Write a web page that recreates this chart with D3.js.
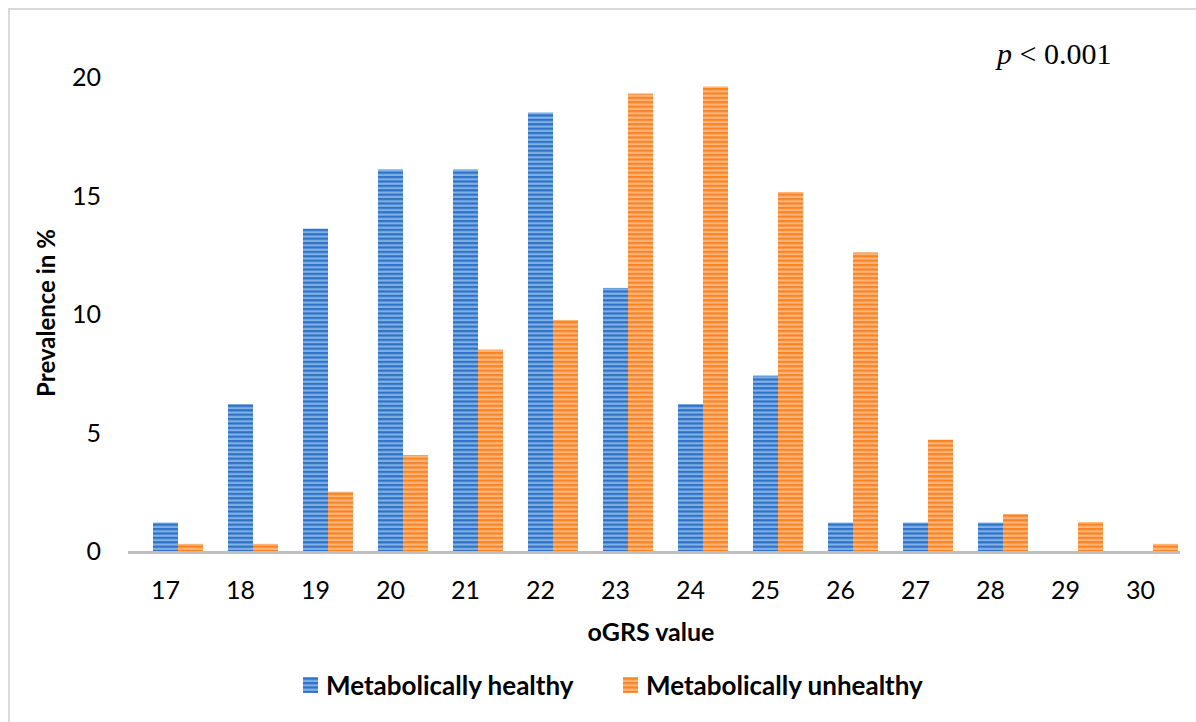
<!DOCTYPE html>
<html><head><meta charset="utf-8">
<script src="https://cdn.jsdelivr.net/npm/d3@7"></script>
<style>html,body{margin:0;padding:0;background:#fff;}svg{display:block;}</style>
</head><body>
<svg id="chart" width="1196" height="722"></svg>
<script>
const categories = ["17","18","19","20","21","22","23","24","25","26","27","28","29","30"];
const healthy   = [1.2, 6.2, 13.6, 16.1, 16.1, 18.5, 11.1, 6.2, 7.4, 1.2, 1.2, 1.2, 0, 0];
const unhealthy = [0.3, 0.3, 2.5, 4.05, 8.5, 9.75, 19.3, 19.6, 15.15, 12.6, 4.7, 1.56, 1.22, 0.3];
const yTicks = [0, 5, 10, 15, 20];
const seriesNames = ["Metabolically healthy", "Metabolically unhealthy"];

const svg = d3.select("#chart");
const font = "Lato, 'Open Sans', sans-serif";

// patterns
const defs = svg.append("defs");
function stripe(id, dark, light) {
  const p = defs.append("pattern").attr("id", id).attr("patternUnits", "userSpaceOnUse")
    .attr("width", 8).attr("height", 4.4);
  p.append("rect").attr("width", 8).attr("height", 4.4).attr("fill", light);
  p.append("rect").attr("width", 8).attr("height", 2.2).attr("fill", dark);
}
stripe("pBlue", "#2f72c4", "#7fb0e6");
stripe("pOrange", "#f98424", "#fcb57c");
const fills = ["url(#pBlue)", "url(#pOrange)"];

// frame
svg.append("path").attr("d", "M9,722 V9 H1196").attr("fill", "none")
  .attr("stroke", "#d9d9d9").attr("stroke-width", 2);

const x = d3.scaleBand().domain(categories).range([128, 1178]).padding(0);
const y = d3.scaleLinear().domain([0, 20]).range([551, 77]);

// y tick labels
svg.append("g").selectAll("text").data(yTicks).join("text")
  .attr("x", 101).attr("y", d => y(d)).attr("dy", "0.36em")
  .attr("text-anchor", "end").attr("font-family", font).attr("font-size", 25)
  .attr("fill", "#000").text(d => d);

// bars
const bw = x.bandwidth() / 3;
const series = [healthy, unhealthy];
series.forEach((vals, si) => {
  svg.append("g").selectAll("rect").data(vals).join("rect")
    .attr("x", (d, i) => x(categories[i]) + bw * (1 + si))
    .attr("width", bw)
    .attr("y", d => y(d))
    .attr("height", d => y(0) - y(d))
    .attr("fill", fills[si]);
});

// baseline
svg.append("line").attr("x1", 128).attr("x2", 1180).attr("y1", y(0) + 1.5).attr("y2", y(0) + 1.5)
  .attr("stroke", "#bfbfbf").attr("stroke-width", 3);

// x tick labels
svg.append("g").selectAll("text").data(categories).join("text")
  .attr("x", d => x(d) + x.bandwidth() / 2).attr("y", 590).attr("dy", "0.36em")
  .attr("text-anchor", "middle").attr("font-family", font).attr("font-size", 25)
  .attr("fill", "#000").text(d => d);

// axis titles
svg.append("text").attr("x", 651).attr("y", 632).attr("dy", "0.35em")
  .attr("text-anchor", "middle").attr("font-family", font).attr("font-weight", "bold")
  .attr("font-size", 25).text("oGRS value");
svg.append("text").attr("transform", "translate(47,313) rotate(-90)").attr("dy", "0.35em")
  .attr("text-anchor", "middle").attr("font-family", font).attr("font-weight", "bold")
  .attr("font-size", 24).text("Prevalence in %");

// p-value
const pt = svg.append("text").attr("x", 997).attr("y", 64)
  .attr("font-family", "'Liberation Serif', serif").attr("font-size", 30).attr("fill", "#000");
pt.append("tspan").attr("font-style", "italic").text("p");
pt.append("tspan").text(" < 0.001");

// legend
const legX = [303, 623];
seriesNames.forEach((n, i) => {
  svg.append("rect").attr("x", legX[i]).attr("y", 677).attr("width", 15).attr("height", 16)
    .attr("fill", fills[i]);
  svg.append("text").attr("x", legX[i] + 23).attr("y", 686).attr("dy", "0.35em")
    .attr("font-family", font).attr("font-weight", "bold").attr("font-size", 26)
    .attr("fill", "#000").text(n);
});
</script>
</body></html>
